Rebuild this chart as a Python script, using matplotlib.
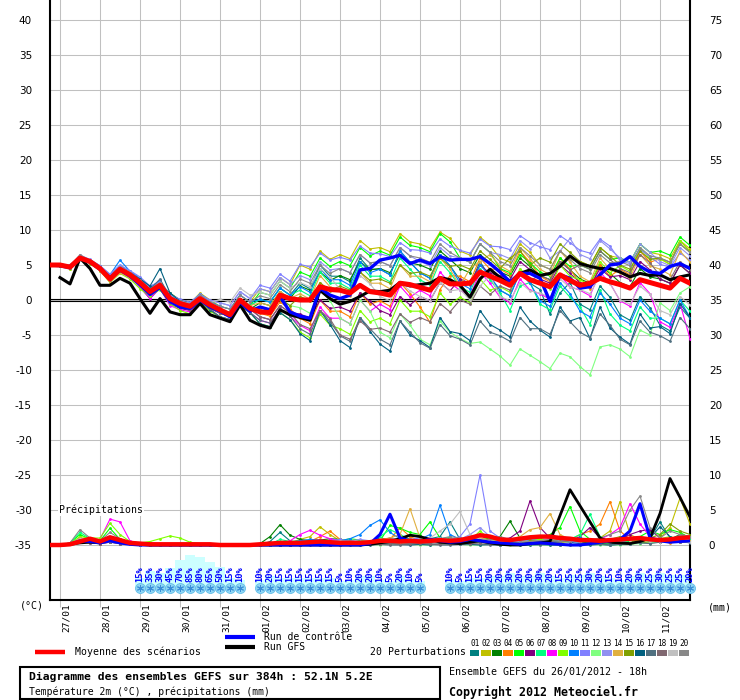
import numpy as np
import matplotlib
matplotlib.use('Agg')
import matplotlib.pyplot as plt
from matplotlib.lines import Line2D
from matplotlib.patches import Rectangle
from matplotlib.transforms import ScaledTranslation

plt.rcParams['axes.unicode_minus'] = False
nan = np.nan
MONO = 'DejaVu Sans Mono'

# pas de 6h depuis le 26/01 18h (indice 0) jusqu'a 384h (indice 64)
dates = ['27/01', '28/01', '29/01', '30/01', '31/01', '01/02', '02/02', '03/02',
         '04/02', '05/02', '06/02', '07/02', '08/02', '09/02', '10/02', '11/02']
date_pos = [1, 5, 9, 13, 17, 21, 25, 29, 33, 37, 41, 45, 49, 53, 57, 61]

# temperature 2m (degC)
moyenne = [5.0, 5.0,4.7,6.0,5.5, 4.5,3.0,4.4,3.6, 2.5,1.2,2.1,0.2, -0.5,-0.9,0.2,-0.7,
           -1.4,-2.1,0.0,-1.2, -1.7,-1.8,0.7,0.2, 0.0,0.0,1.9,1.5, 1.4,1.0,2.1,1.2,
           1.0,0.7,2.4,2.2, 1.8,1.4,3.1,2.3, 2.3,2.4,4.0,3.4, 2.8,2.1,3.8,2.9,
           2.4,1.9,3.6,2.8, 2.1,2.4,3.1,2.6, 2.2,1.7,2.9,2.5, 2.1,1.7,3.1,2.4]
controle = [5.0, 4.9,4.6,6.0,5.4, 4.4,3.2,4.3,3.4, 2.2,0.8,1.8,-0.2, -1.0,-1.2,0.0,-1.0,
            -1.6,-2.4,-0.3,-1.6, -1.0,-1.4,0.5,-1.7, -2.3,-2.6,1.7,0.7, 0.2,0.7,4.3,4.5,
            5.7,6.0,6.4,5.2, 5.7,5.2,6.2,5.7, 5.8,5.8,6.2,5.2, 4.0,2.6,3.8,3.8,
            3.1,-0.2,3.6,3.1, 1.7,1.9,3.6,5.0, 5.2,6.2,4.8,4.0, 3.8,4.8,5.2,4.5]
gfs = [nan, 3.2,2.3,6.0,4.5, 2.1,2.1,3.1,2.4, 0.2,-1.9,0.2,-1.7, -2.1,-2.1,-0.5,-2.1,
       -2.6,-3.1,-0.7,-2.9, -3.6,-4.0,-1.4,-2.1, -2.5,-2.9,1.4,0.2, -0.6,-0.2,0.5,1.3,
       1.2,1.4,2.5,2.0, 2.2,2.4,3.2,2.9, 2.1,0.4,3.0,4.4, 3.2,2.4,3.8,4.3,
       3.5,3.8,4.8,6.3, 5.2,4.8,4.5,4.5, 4.0,3.3,3.8,3.5, 3.6,2.9,3.3,3.6]

pert01 = [5.0,5.1,4.9,6.2,5.6,4.8,3.4,4.6,3.9,2.9,1.6,2.4,0.6,-0.2,-0.6,0.4,-0.4,
          -1.4,-1.8,0.2,-0.8, 0.1,-0.3,1.7,0.7, 2.4,1.6,5.0,3.4, 3.4,2.6,6.0,4.4, 4.4,3.6,7.0,5.4,
          3.9,3.1,6.5,4.9, 2.9,2.1,5.5,3.2, 1.4,0.6,4.0,2.4, 1.5,-2.0,1.0,2.5, -0.6,-1.4,2.0,0.4,
          -2.1,-2.9,0.5,-1.1, -3.6,-4.4,-1.0,-2.6]
pert02 = [5.0,4.9,4.6,6.3,5.4,4.2,2.7,4.2,3.3,2.2,1.0,2.5,0.4,-0.1,-0.5,1.0,0.0,
          -0.9,-1.3,0.7,-0.3, 1.6,1.2,3.2,2.2, 5.0,4.4,7.0,5.8, 6.5,5.9,8.5,7.3, 7.5,6.9,9.5,8.3,
          8.0,7.4,9.7,8.8, 7.0,6.4,9.0,7.8, 6.0,5.4,8.0,6.8, 5.0,4.4,7.0,5.8, 5.5,4.9,7.5,6.3,
          6.0,5.4,8.0,6.8, 6.5,5.9,8.5,7.3]
pert03 = [5.0,5.0,4.8,5.9,5.5,4.7,3.5,4.9,4.0,3.0,1.9,2.3,1.0,0.0,-0.3,0.5,-0.5,
          -1.9,-2.3,-0.3,-1.3, -0.4,-0.8,1.2,0.2, 2.0,1.4,4.0,2.8, 3.5,2.9,5.5,4.3, 4.5,3.9,6.5,5.3,
          5.0,4.4,7.0,5.8, 4.5,3.9,6.5,5.3, 4.0,3.4,6.0,4.8, 3.5,2.9,5.5,4.3, 3.0,2.4,5.0,3.8,
          2.5,1.9,4.5,3.3, 3.0,2.4,5.0,3.8]
pert04 = [5.0,5.0,4.5,6.0,5.3,4.3,2.6,4.1,3.2,2.0,0.8,1.8,-0.3,-0.9,-1.3,-0.1,-1.0,
          -1.9,-2.3,-0.3,-1.3, -1.9,-2.3,-0.3,-1.3, -2.6,-3.4,0.0,-1.6, -1.6,-2.4,1.0,-0.6, -0.1,-0.9,2.5,0.9,
          -1.0,-3.2,1.5,3.5, 3.4,2.6,6.0,4.4, 4.4,3.6,7.0,5.4, 3.4,2.6,6.0,4.4, 2.4,1.6,5.0,3.4,
          4.4,3.6,7.0,5.4, 5.9,5.1,8.5,6.9]
pert05 = [5.0,5.1,4.8,6.1,5.6,4.6,3.1,4.5,3.7,2.4,1.4,2.3,0.3,-0.4,-0.8,0.3,-0.3,
          -1.4,-1.8,0.2,-0.8, 1.1,0.7,2.7,1.7, 4.0,3.4,6.0,4.8, 5.5,4.9,7.5,6.3, 7.0,6.4,9.0,7.8,
          7.5,6.9,9.5,8.3, 6.0,5.4,8.0,6.8, 4.5,3.9,6.5,5.3, 4.0,3.4,6.0,4.8, 5.0,4.4,7.0,5.8,
          6.0,5.4,8.0,6.8, 7.0,6.4,9.0,7.8]
pert06 = [5.0,4.9,4.6,5.9,5.4,4.4,2.9,4.3,3.4,1.8,0.2,1.7,-0.6,-1.2,-1.5,-0.2,-1.2,
          -1.9,-2.3,-0.3,-1.3, -2.4,-2.8,-0.8,-1.8, -2.0,-2.6,0.0,-1.2, -1.0,-1.6,1.0,-0.2, -1.5,-2.1,0.5,-0.7,
          0.5,-0.1,2.5,1.3, 3.0,2.4,5.0,3.8, 3.5,2.9,5.5,4.3, 3.0,2.4,5.0,3.8, 2.5,1.9,4.5,3.3,
          3.5,2.9,5.5,4.3, 3.0,2.4,5.0,3.8]
pert07 = [5.0,5.0,4.7,6.1,5.5,4.6,3.2,4.4,3.8,2.7,1.3,2.2,0.1,-0.6,-1.0,0.2,-0.8,
          -1.4,-1.8,0.2,-0.8, 0.1,-0.3,1.7,0.7, 1.4,0.6,4.0,2.4, 2.4,1.6,5.0,3.4, 3.4,2.6,6.0,4.4,
          2.9,2.1,5.5,3.9, 1.9,1.1,4.5,2.9, 1.0,-1.5,2.0,2.5, -0.6,-1.4,2.0,0.4, -1.0,-3.5,1.5,-2.0,
          -3.6,-4.4,-1.0,-2.6, -2.6,-3.4,0.0,-1.6]
pert08 = [5.0,5.0,4.6,6.0,5.4,4.4,2.8,4.0,3.3,1.9,0.3,1.6,-0.8,-1.4,-1.7,-0.4,-1.5,
          -2.4,-2.8,-0.8,-1.8, -2.9,-3.3,-1.3,-2.3, -3.6,-4.4,-1.0,-2.6, -2.6,-3.4,0.0,-1.6, -0.6,-1.4,2.0,0.4,
          1.4,0.6,4.0,2.4, 1.4,0.6,4.0,2.4, 0.4,-0.4,3.0,1.4, 0.9,0.1,3.5,1.9, 1.4,0.6,4.0,2.4,
          -0.1,-0.9,2.5,0.9, -3.1,-3.9,-0.5,-5.5]
pert09 = [5.0,4.9,4.5,5.9,5.2,4.2,2.5,3.8,3.0,1.6,0.6,1.5,-0.5,-1.5,-2.0,-0.3,-1.6,
          -2.4,-2.8,-0.8,-1.8, -3.4,-3.8,-1.8,-2.8, -4.6,-5.4,-2.0,-3.6, -4.1,-4.9,-1.5,-3.1, -2.6,-3.4,0.0,-1.6,
          -1.6,-2.4,1.0,-0.6, 0.4,-0.4,3.0,1.4, 1.9,1.1,4.5,2.9, 2.4,1.6,5.0,3.4, 2.9,2.1,5.5,3.9,
          4.9,4.1,7.5,5.9, 5.9,5.1,8.5,6.9]
pert10 = [5.0,5.1,5.0,6.2,5.7,4.9,3.6,5.7,4.1,3.1,1.8,2.8,0.5,-0.2,-0.7,0.9,-0.2,
          -0.9,-1.3,0.7,-0.3, 0.1,-0.3,1.7,0.7, 1.9,1.1,4.5,2.9, 2.9,2.1,5.5,3.9, 4.4,3.6,7.0,5.4,
          3.9,3.1,6.5,4.9, 2.4,1.6,5.0,3.4, 1.4,0.6,4.0,2.4, -0.1,-0.9,2.5,0.9, -1.6,-2.4,1.0,-0.6,
          -2.6,-3.4,0.0,-1.6, -2.6,-3.4,0.0,-2.5]
pert11 = [5.0,5.1,4.9,6.4,5.8,4.9,3.7,5.0,4.2,3.3,2.0,2.6,0.8,0.1,-0.3,0.8,0.0,
          -0.4,-0.8,1.2,0.2, 2.1,1.7,3.7,2.7, 5.1,4.7,6.7,5.7, 6.1,5.7,7.7,6.7, 6.6,6.2,8.2,7.2,
          7.1,6.7,8.7,7.7, 7.1,6.7,8.7,7.7, 7.6,7.2,9.2,8.2, 7.6,7.2,9.2,8.2, 7.1,6.7,8.7,7.7,
          5.6,5.2,7.2,6.2, 5.1,4.7,6.7,5.7]
pert12 = [5.0,5.0,4.7,5.9,5.4,4.5,2.9,4.2,3.5,2.3,1.0,2.0,0.0,-0.7,-1.1,0.0,-0.8,
          -1.9,-2.3,-0.3,-1.3, -1.4,-1.8,0.2,-0.8, -1.1,-1.9,1.5,-0.1, -2.6,-3.4,0.0,-1.6, -4.6,-5.4,-2.0,-3.6,
          -5.6,-6.4,-3.0,-4.6, -5.5,-6.2,-6.0,-7.0, -8.0,-9.3,-7.0,-7.9, -8.8,-9.8,-7.6,-8.1, -9.5,-10.7,-6.7,-6.4,
          -7.0,-8.1,-4.3,-5.0, -0.4,-1.5,1.0,1.9]
pert13 = [5.0,5.2,4.9,6.3,5.7,4.8,3.5,4.8,4.0,3.0,1.7,2.5,0.6,-0.1,-0.5,0.6,-0.1,
          -0.4,-0.8,1.2,0.2, 1.6,1.2,3.2,2.2, 3.5,2.9,5.5,4.3, 4.5,3.9,6.5,5.3, 5.5,4.9,7.5,6.3,
          5.5,4.9,7.5,6.3, 6.0,5.4,8.0,6.8, 6.5,5.9,8.5,7.3, 8.5,6.0,7.0,8.8, 6.5,5.9,8.5,7.3,
          6.0,5.4,8.0,6.8, 5.5,4.9,7.5,6.3]
pert14 = [5.0,5.0,4.6,6.0,5.4,4.3,2.5,3.9,3.1,2.1,0.9,1.9,-0.1,-0.7,-1.1,0.1,-0.9,
          -1.4,-1.8,0.2,-0.8, -0.4,-0.8,1.2,0.2, 0.9,0.1,3.5,1.9, 1.4,0.6,4.0,2.4, 2.4,1.6,5.0,3.4,
          3.4,2.6,6.0,4.4, 2.0,4.5,5.5,6.5, 4.9,4.1,7.5,5.9, 4.4,3.6,7.0,5.4, 3.4,2.6,6.0,4.4,
          3.9,3.1,6.5,4.9, 4.4,3.6,7.0,5.4]
pert15 = [5.0,4.9,4.7,6.0,5.5,4.6,3.1,4.5,3.7,2.6,1.3,2.2,0.3,-0.4,-0.8,0.4,-0.6,
          -1.9,-2.3,-0.3,-1.3, -1.4,-1.8,0.2,-0.8, 0.5,-0.1,2.5,1.3, 2.0,1.4,4.0,2.8, 3.0,2.4,5.0,3.8,
          4.0,3.4,6.0,4.8, 5.0,4.4,7.0,5.8, 4.5,6.0,7.0,5.0, 6.0,5.4,8.0,6.8, 5.5,4.9,7.5,6.3,
          5.0,4.4,7.0,5.8, 6.0,5.4,8.0,6.8]
pert16 = [5.0,5.0,4.8,6.1,5.6,4.7,3.3,4.5,3.9,3.0,2.0,4.5,1.0,-0.2,-1.0,0.0,-1.4,
          -2.4,-2.8,-0.8,-1.8, -3.4,-3.8,-1.8,-2.8, -4.8,-5.8,-1.5,-3.5, -5.8,-6.8,-2.5,-4.5, -6.3,-7.3,-3.0,-5.0,
          -5.8,-6.8,-2.5,-4.5, -4.8,-5.8,-1.5,-3.5, -4.3,-5.3,-1.0,-3.0, -4.3,-5.3,-1.0,-3.0, -2.5,-5.5,-1.0,-4.0,
          -5.3,-6.3,-2.0,-4.0, -3.8,-4.8,-0.5,-2.5]
pert17 = [5.0,5.0,4.7,6.0,5.5,4.5,3.2,4.3,3.7,2.8,1.5,3.0,0.4,-0.6,-1.2,-0.1,-1.3,
          -2.4,-2.8,-0.8,-1.8, -2.9,-3.3,-1.3,-2.3, -4.1,-4.9,-1.5,-3.1, -5.1,-5.9,-2.5,-4.1, -5.6,-6.4,-3.0,-4.6,
          -6.1,-6.9,-3.5,-5.1, -5.6,-6.4,-3.0,-4.6, -5.1,-5.9,-2.5,-4.1, -4.1,-4.9,-1.5,-3.1, -4.6,-5.4,-2.0,-3.6,
          -5.6,-6.4,-3.0,-4.6, -5.1,-5.9,-2.5,-4.1]
pert18 = [5.0,5.0,4.6,5.8,5.3,4.4,2.9,4.1,3.4,2.2,0.9,1.8,-0.4,-1.0,-1.4,-0.2,-1.1,
          -1.9,-2.3,-0.3,-1.3, -2.4,-2.8,-0.8,-1.8, -3.5,-4.1,-1.5,-2.7, -5.0,-5.6,-3.0,-4.2, -4.0,-4.6,-2.0,-3.2,
          -2.5,-3.1,-0.5,-1.7, 0.0,-0.6,2.0,0.8, 2.0,1.4,4.0,2.8, 3.5,2.9,5.5,4.3, 5.0,4.4,7.0,5.8,
          4.5,3.9,6.5,5.3, 3.5,2.9,5.5,4.3]
pert19 = [5.0,5.0,4.8,6.1,5.5,4.6,3.2,4.6,3.8,2.7,1.4,2.4,0.4,-0.3,-0.7,0.5,-0.4,
          0.1,-0.3,1.7,0.7, 1.1,0.7,2.7,1.7, 2.5,1.9,4.5,3.3, 1.5,0.9,3.5,2.3, 0.5,-0.1,2.5,1.3,
          0.5,-0.1,2.5,1.3, 1.5,0.0,2.0,3.5, 0.5,-0.1,2.5,1.3, 1.0,0.4,3.0,1.8, 1.5,0.9,3.5,2.3,
          0.0,-0.6,2.0,0.8, -1.5,-2.1,0.5,-0.7]
pert20 = [5.0,5.1,4.8,6.5,5.6,4.7,3.3,4.7,3.9,2.8,1.5,2.5,0.5,-0.2,-0.6,0.7,-0.3,
          -0.9,-1.3,0.7,-0.3, 0.6,0.2,2.2,1.2, 3.0,2.4,5.0,3.8, 4.5,3.9,6.5,5.3, 5.5,4.9,7.5,6.3,
          6.0,5.4,8.0,6.8, 6.0,5.4,8.0,6.8, 5.5,4.9,7.5,6.3, 5.0,4.4,7.0,5.8, 4.5,3.9,6.5,5.3,
          5.5,4.9,7.5,6.3, 6.0,5.4,8.0,6.8]

# precipitations sur 6h (mm)
moyenne_pr = [0, 0,0.1,0.5,0.9, 0.5,1.1,0.7,0.3, 0.2,0.1,0.1,0.1, 0.1,0.1,0.1,0.1, 0,0,0,0,
              0.1,0.2,0.3,0.3, 0.3,0.4,0.5,0.4, 0.3,0.3,0.3,0.4, 0.6,0.6,0.5,0.6, 0.5,0.6,0.7,0.6,
              0.7,1.0,1.4,1.2, 0.8,0.7,0.9,1.1, 1.2,1.2,1.0,0.9, 0.7,0.7,0.6,0.7, 0.8,0.9,1.0,0.8,
              0.7,0.8,1.0,1.1]
controle_pr = [0, 0,0.1,0.6,0.5, 0.3,0.6,0.3,0.1, 0,0,0,0, 0,0,0,0, 0,0,0,0, 0,0,0,0, 0,0,0,0,
               0,0,0,0.2, 1.5,4.4,1.0,0.6, 0.5,0.8,0.6,0.4, 0.5,0.8,0.6,0.4, 0.3,0.2,0.1,0.2,
               0.3,0.2,0.1,0.0, 0.0,0.2,0.4,0.6, 0.8,2.0,5.9,1.0, 0.6,0.4,0.5,0.6]
gfs_pr = [nan, 0,0.1,0.3,0.4, 0.3,0.8,0.5,0.2, 0.1,0,0,0, 0,0,0,0, 0,0,0,0, 0,0,0,0, 0,0,0,0,
          0,0,0,0.1, 0.3,0.5,0.9,1.4, 1.2,0.8,0.4,0.3, 0.2,0.4,0.6,0.3, 0.1,0,0,0.2,
          0.3,0.5,4.2,7.9, 5.6,3.3,1.0,0.4, 0.3,0.2,0.5,1.0, 4.5,9.5,6.8,4.0]

pr01 = [0, 0,0.2,1.0,0.6, 0.4,0.9,0.5,0.2, 0,0,0,0, 0,0,0,0, 0,0,0,0, 0,0.5,1.8,0.6, 0.3,0.2,0.5,0.3,
        0.2,0.4,0.6,0.5, 1.0,0.8,0.5,0.4, 0.6,0.9,1.2,3.3, 0.8,0.4,0.6,0.5, 0.3,0.2,0.3,0.4,
        0.2,0.3,0.5,0.4, 0.2,0.1,0.3,0.2, 0.2,0.4,0.5,0.9, 3.3,1.0,0.4,0.6]
pr02 = [0, 0,0.1,0.6,0.4, 0.3,0.5,0.3,0.1, 0,0,0,0, 0,0,0,0, 0,0,0,0, 0,0,0.2,0.3, 0.8,1.2,2.6,1.5,
        0.6,0.3,0.2,0.3, 0.5,0.6,0.4,0.3, 0.2,0.4,0.6,0.5, 0.7,0.5,0.8,0.6, 0.4,0.3,0.5,0.4,
        0.3,0.6,0.4,0.5, 0.8,0.6,1.0,2.0, 6.2,1.5,0.8,0.6, 1.0,2.5,6.7,3.0]
pr03 = [0, 0,0.2,0.9,0.5, 0.3,0.6,0.4,0.2, 0,0,0,0, 0,0,0,0, 0,0,0,0, 0.2,1.2,2.9,1.4, 0.8,0.6,0.7,0.9,
        0.8,0.5,0.4,0.6, 0.7,1.0,0.8,0.5, 0.6,0.5,0.7,0.9, 0.6,0.8,1.4,0.9, 1.2,3.4,1.0,0.6,
        0.4,0.3,0.5,0.6, 0.4,0.3,0.2,0.4, 0.3,0.5,0.4,0.3, 0.6,0.8,1.5,1.2]
pr04 = [0, 0,0.1,0.7,0.4, 0.2,0.5,0.3,0.1, 0,0,0,0, 0,0,0,0, 0,0,0,0, 0,0,0,0.1, 0.3,0.5,1.2,2.0,
        0.8,0.4,0.3,0.2, 0.4,0.8,2.5,1.2, 0.6,0.8,0.5,0.4, 0.6,1.0,0.8,0.5, 0.4,0.6,0.8,0.5,
        0.3,0.5,0.9,0.7, 1.5,2.0,3.0,6.2, 2.0,0.8,0.5,0.4, 0.6,0.3,0.5,0.4]
pr05 = [0, 0,0.3,1.5,0.8, 0.6,2.4,0.8,0.3, 0,0,0,0, 0,0,0,0, 0,0,0,0, 0,0,0.1,0.2, 0.3,0.2,0.4,0.5,
        0.6,0.9,0.7,0.5, 0.6,2.8,2.4,1.8, 1.5,3.3,1.0,0.6, 0.8,0.5,0.7,1.0, 0.6,0.4,0.5,0.8,
        1.0,1.5,2.5,5.5, 2.0,0.8,0.6,0.5, 0.4,0.6,1.2,2.0, 1.5,2.2,1.8,1.0]
pr06 = [0, 0,0.1,0.5,0.3, 0.2,0.4,0.2,0.1, 0,0,0,0, 0,0,0,0, 0,0,0,0, 0,0,0,0, 0.2,0.3,0.2,0.1,
        0.2,0.3,0.4,0.3, 0.4,0.5,0.3,0.2, 0.3,0.4,0.5,0.6, 0.8,1.2,0.9,0.7, 0.8,1.0,2.0,6.3,
        2.5,1.0,0.8,0.6, 1.2,2.5,1.0,0.6, 0.8,1.5,2.0,2.2, 1.0,0.6,0.8,0.5]
pr07 = [0, 0,0.3,1.8,0.9, 0.5,1.2,0.6,0.2, 0,0,0,0, 0,0,0,0, 0,0,0,0, 0,0.1,0.8,0.5, 0.6,0.5,0.3,0.4,
        0.5,0.6,0.4,0.3, 1.2,2.2,1.5,0.8, 0.6,0.7,0.9,1.1, 0.6,0.5,0.4,0.8, 0.5,0.4,0.6,0.7,
        0.9,0.6,0.5,0.8, 1.5,4.4,1.2,0.5, 0.4,0.6,0.8,0.5, 0.4,0.6,0.5,0.7]
pr08 = [0, 0,0.2,1.0,0.8, 0.8,3.7,3.3,0.6, 0.2,0.3,0.2,0.1, 0.1,0.2,0.1,0, 0,0,0,0, 0,0,0.2,0.6,
        1.5,2.1,1.4,0.9, 0.6,0.4,0.3,0.5, 0.7,0.6,0.4,0.5, 0.6,0.8,0.5,0.4, 0.5,0.7,0.6,0.5,
        0.4,0.3,0.5,0.6, 0.5,1.0,1.2,0.8, 0.6,0.5,0.8,1.5, 2.5,5.9,3.0,1.2, 0.8,0.6,0.5,0.4]
pr09 = [0, 0,0.2,1.2,1.0, 1.0,3.1,1.5,0.5, 0.3,0.5,0.9,1.3, 1.0,0.4,0.2,0.1, 0,0,0,0, 0,0,0,0.1,
        0.2,0.3,0.2,0.3, 0.4,0.3,0.2,0.3, 0.4,0.6,0.5,0.4, 0.3,0.6,0.8,0.5, 0.4,0.6,2.0,0.8,
        0.5,0.4,0.3,0.6, 0.8,0.5,0.4,0.6, 0.7,0.5,0.4,0.3, 0.5,0.8,1.0,0.7, 0.9,1.2,0.8,0.6]
pr10 = [0, 0,0.2,0.8,0.5, 0.4,0.7,0.4,0.1, 0,0,0,0, 0,0,0,0, 0,0,0,0, 0,0,0.2,0.4, 0.6,0.8,0.7,0.5,
        0.6,0.9,1.5,2.8, 3.6,1.8,0.9,0.6, 0.8,1.5,5.7,1.5, 0.8,0.5,0.6,0.4, 0.3,0.5,0.8,0.6,
        0.5,0.4,0.6,0.7, 1.0,0.8,0.6,0.5, 0.4,0.8,1.2,0.6, 0.5,0.8,0.6,0.4]
pr11 = [0, 0,0.1,0.6,0.4, 0.3,0.5,0.3,0.1, 0,0,0,0, 0,0,0,0, 0,0,0,0, 0,0,0,0.1, 0.2,0.3,0.4,0.6,
        0.8,0.5,0.4,0.3, 0.5,0.6,0.4,0.8, 1.0,0.7,0.6,0.8, 1.2,3.0,10.0,2.0, 1.0,0.6,0.8,0.5,
        0.4,0.6,0.8,0.5, 0.4,0.6,0.5,0.4, 0.6,0.8,1.0,0.7, 0.5,0.6,0.8,0.6]
pr12 = [0, 0,0.2,0.9,0.6, 0.4,0.8,0.4,0.2, 0,0,0,0, 0,0,0,0, 0,0,0,0, 0,0,0,0, 0,0.1,0,0,
        0.1,0,0,0.1, 0,0.1,0.2,0.1, 0,0,0.1,0.2, 0.1,0,0,0.1, 0,0,0,0,
        0,0,0,0, 0,0.1,0,0, 0,0.1,0.2,0.3, 0.5,0.8,0.6,0.4]
pr13 = [0, 0,0.1,0.7,0.4, 0.3,0.6,0.3,0.1, 0,0,0,0, 0,0,0,0, 0,0,0,0, 0,0,0.1,0.2, 0.3,0.5,0.6,0.4,
        0.5,0.6,0.8,0.6, 0.5,1.0,0.8,0.6, 0.5,0.8,1.0,0.7, 0.8,1.5,2.5,1.2, 0.8,0.6,0.5,0.8,
        0.6,0.5,0.7,0.8, 0.6,0.5,0.7,0.5, 0.6,0.9,0.8,0.6, 0.5,0.7,0.6,0.5]
pr14 = [0, 0,0.2,1.0,0.5, 0.4,0.8,0.4,0.1, 0,0,0,0, 0,0,0,0, 0,0,0,0, 0,0,0,0.1, 0.2,0.4,0.6,0.5,
        0.4,0.3,0.5,0.6, 0.8,1.0,1.5,5.2, 1.0,0.6,0.5,0.8, 0.6,0.8,1.0,0.6, 0.5,0.8,1.2,2.2,
        2.5,4.5,1.5,0.8, 0.6,0.5,0.6,0.8, 1.0,0.6,0.5,0.8, 0.6,0.5,0.7,0.6]
pr15 = [0, 0,0.2,0.8,0.5, 0.3,0.6,0.3,0.1, 0,0,0,0, 0,0,0,0, 0,0,0,0, 0,0,0.1,0.2, 0.3,0.4,0.5,0.4,
        0.3,0.5,0.4,0.3, 0.4,0.6,0.5,0.4, 0.5,0.7,0.6,0.5, 0.6,0.8,0.7,0.5, 0.6,0.8,1.0,0.7,
        0.5,0.6,0.8,1.0, 0.7,0.6,0.5,0.8, 1.2,0.8,0.6,1.0, 1.5,3.0,2.0,1.5]
pr16 = [0, 0,0.2,0.7,0.4, 0.3,0.5,0.3,0.1, 0,0,0,0, 0,0,0,0, 0,0,0,0, 0,0,0,0, 0,0.1,0,0,
        0,0.1,0,0, 0.1,0.2,0.1,0, 0.1,0,0.2,0.1, 0.2,0.1,0,0.1, 0,0.1,0,0,
        0.1,0,0,0.1, 0,0,0.1,0, 0.1,0.2,0.4,1.0, 2.6,1.2,0.6,0.5]
pr17 = [0, 0,0.1,0.6,0.4, 0.3,0.5,0.2,0.1, 0,0,0,0, 0,0,0,0, 0,0,0,0, 0,0,0,0, 0,0,0.1,0,
        0,0,0.1,0.2, 0.1,0,0,0.1, 0.2,0.1,0,0, 0.1,0.2,0.1,0, 0,0.1,0.2,0.1,
        0,0.1,0,0, 0.1,0.2,0.1,0, 0.1,0.2,0.3,0.2, 0.4,0.8,0.5,0.3]
pr18 = [0, 0,0.1,0.5,0.3, 0.2,0.4,0.2,0.1, 0,0,0,0, 0,0,0,0, 0,0,0,0, 0,0,0,0, 0.1,0.2,0.1,0,
        0.1,0.2,0.3,0.2, 0.1,0.2,0.1,0.2, 0.3,0.2,0.1,0.2, 0.3,0.2,0.3,0.2, 0.1,0.2,0.3,0.2,
        0.3,0.5,0.4,0.6, 0.8,0.5,0.6,0.8, 0.6,0.8,1.0,0.7, 0.5,0.6,1.5,1.2]
pr19 = [0, 0,0.2,0.9,0.6, 0.4,0.8,0.4,0.2, 0,0,0,0, 0,0,0,0, 0,0,0,0, 0,0,0.2,0.4, 0.5,0.4,0.3,0.5,
        0.6,0.4,0.5,0.6, 0.8,0.6,0.5,0.7, 0.8,1.0,2.0,3.0, 4.8,1.5,0.8,0.6, 0.5,0.7,0.6,0.5,
        0.6,0.8,1.0,0.7, 0.6,0.5,0.8,0.6, 0.5,0.7,0.9,0.6, 0.5,0.8,0.6,0.4]
pr20 = [0, 0,0.3,2.2,1.0, 0.6,1.8,0.9,0.3, 0,0,0,0, 0,0,0,0, 0,0,0,0, 0,0,0.1,0.3, 0.4,0.5,0.3,0.4,
        0.5,0.6,0.4,0.5, 0.6,0.8,1.0,0.7, 0.8,0.6,0.9,1.2, 1.0,0.8,0.6,0.8, 1.2,0.8,0.6,0.5,
        0.6,0.8,0.5,0.7, 0.6,0.8,1.0,1.5, 2.0,5.0,7.0,2.5, 1.0,2.0,1.5,1.2]

# probabilite de neige (%) par pas de 6h
neige = [None]*9 + [15,35,30,45,70,85,80,65,50,15,10] + [None] + \
        [10,20,15,15,15,15,15,15,5,10,20,20,10,5,20,10,5] + [None, None] + \
        [10,5,15,15,20,20,30,20,20,30,20,15,25,25,30,20,15,10,20,30,25,30,25,25,20]

couleurs = ['#008080', '#c0c000', '#008000', '#ff8000', '#00ff00', '#800080', '#00ff80',
            '#ff00ff', '#80ff00', '#0080ff', '#8080ff', '#80ff80', '#9090f0', '#e0b040',
            '#80a000', '#006080', '#507080', '#806870', '#c0c0c0', '#888888']

perts = [pert01, pert02, pert03, pert04, pert05, pert06, pert07, pert08, pert09, pert10,
         pert11, pert12, pert13, pert14, pert15, pert16, pert17, pert18, pert19, pert20]
prs = [pr01, pr02, pr03, pr04, pr05, pr06, pr07, pr08, pr09, pr10,
       pr11, pr12, pr13, pr14, pr15, pr16, pr17, pr18, pr19, pr20]

W, H = 740, 700
fig = plt.figure(figsize=(W / 100, H / 100), dpi=100)
ax = fig.add_axes([50 / W, 100 / H, 640 / W, 600 / H])
ax.set_xlim(0, 64)
ax.set_ylim(-300 / 7, 300 / 7)

ax.set_xticks(date_pos)
ax.set_xticklabels(dates, rotation=90, family=MONO, fontsize=6.8)
ax.set_yticks(range(-35, 45, 5))
ax.tick_params(axis='y', length=0, pad=13, labelsize=7.5)
ax.tick_params(axis='x', length=5, color='#c0c0c0', width=0.75, pad=-3)
off = ScaledTranslation(6 / 100, 0, fig.dpi_scale_trans)
for lab in ax.get_xticklabels():
    lab.set_transform(lab.get_transform() + off)
ax.grid(True, color='#c0c0c0', lw=0.75)
ax.set_axisbelow(True)
for s in ['left', 'bottom', 'right']:
    ax.spines[s].set_linewidth(1.5)
ax.spines['top'].set_visible(False)

ax2 = ax.twinx()
ax2.set_ylim(-300 / 7 + 35, 300 / 7 + 35)
ax2.set_yticks(range(0, 80, 5))
ax2.tick_params(length=0, pad=13.5, labelsize=7.5)
for s in ax2.spines.values():
    s.set_visible(False)

# double trait a 0 degC
ax.axhline(0.14, color='k', lw=0.8, zorder=2)
ax.axhline(-0.14, color='k', lw=0.8, zorder=2)

# bandeau neige
y_flocon = -288 / 7
xs = [i for i, p in enumerate(neige) if p is not None]
for i in xs:
    p = neige[i]
    h = (5 + 0.33 * p) / 7
    ax.bar(i, h, bottom=y_flocon, width=1, color='#ccffff', lw=0, zorder=1)
    ax.text(i, -282 / 7, '%d%%' % p, rotation=90, ha='center', va='bottom',
            color='#0000ff', fontsize=6.3, family=MONO, fontweight='bold', zorder=5)
ax.plot(xs, [y_flocon] * len(xs), 'o', ms=7.2, color='#8fd6f4', mec='#63bfe9', mew=0.6,
        zorder=3, clip_on=False)
ax.plot(xs, [y_flocon] * len(xs), ls='none', marker=(6, 2, 0), ms=5, color='#3a8fd8',
        mew=0.7, zorder=4, clip_on=False)

ax.text(0.9, -30, 'Précipitations', va='center', ha='left', fontsize=7.1, family=MONO,
        bbox=dict(fc='white', ec='none', pad=0.5), zorder=2)

# perturbations
for t, pr, c in zip(perts, prs, couleurs):
    ax.plot(np.arange(len(t)), t, color=c, lw=0.8, marker='o', ms=2, mew=0, zorder=3)
    ax.plot(np.arange(len(pr)), np.array(pr) - 35, color=c, lw=0.8, marker='o', ms=2,
            mew=0, zorder=3)

ax.plot(np.arange(len(gfs)), gfs, color='k', lw=2.2, zorder=4)
ax.plot(np.arange(len(gfs_pr)), np.array(gfs_pr) - 35, color='k', lw=2.0, zorder=4)
ax.plot(np.arange(len(controle)), controle, color='#0000ff', lw=2.4, zorder=5)
ax.plot(np.arange(len(controle_pr)), np.array(controle_pr) - 35, color='#0000ff', lw=2.2, zorder=5)
ax.plot(np.arange(len(moyenne)), moyenne, color='#ff0000', lw=3.6, zorder=6)
ax.plot(np.arange(len(moyenne_pr)), np.array(moyenne_pr) - 35, color='#ff0000', lw=3.2, zorder=6)

# bas de l'image
def fy(py):
    return 1 - py / H

fig.text(20 / W, fy(606), '(°C)', va='center', ha='left', family=MONO, fontsize=7.2)
fig.text(708 / W, fy(607), '(mm)', va='center', ha='left', family=MONO, fontsize=7.2)

fig.add_artist(Line2D([35 / W, 65 / W], [fy(652)] * 2, color='#ff0000', lw=3.2, solid_capstyle='butt'))
fig.text(75 / W, fy(652), 'Moyenne des scénarios', va='center', family=MONO, fontsize=7.1)
fig.add_artist(Line2D([225 / W, 255 / W], [fy(637)] * 2, color='#0000ff', lw=3.0, solid_capstyle='butt'))
fig.text(264 / W, fy(637), 'Run de contrôle', va='center', family=MONO, fontsize=7.0)
fig.add_artist(Line2D([225 / W, 255 / W], [fy(647)] * 2, color='k', lw=3.0, solid_capstyle='butt'))
fig.text(264 / W, fy(647), 'Run GFS', va='center', family=MONO, fontsize=7.0)

fig.text(370 / W, fy(652), '20 Perturbations', va='center', family=MONO, fontsize=7.1)
for k, c in enumerate(couleurs):
    x0 = 470 + 11 * k
    fig.add_artist(Rectangle((x0 / W, fy(656)), 9.5 / W, 6 / H, color=c, lw=0,
                             transform=fig.transFigure))
    fig.text((x0 + 4.8) / W, fy(643), '%02d' % (k + 1), ha='center', va='center',
             family=MONO, fontsize=5.6)

fig.add_artist(Rectangle((20 / W, fy(699)), 420 / W, 32 / H, fill=False, ec='k', lw=1.5,
                         transform=fig.transFigure))
fig.text(29 / W, fy(677), 'Diagramme des ensembles GEFS sur 384h : 52.1N 5.2E', va='center',
         family=MONO, fontweight='bold', fontsize=8.2)
fig.text(29 / W, fy(692), 'Température 2m (°C) , précipitations (mm)', va='center',
         family=MONO, fontsize=7.0)
fig.text(449 / W, fy(672), 'Ensemble GEFS du 26/01/2012 - 18h', va='center', family=MONO,
         fontsize=7.2)
fig.text(449 / W, fy(692), 'Copyright 2012 Meteociel.fr', va='center', family=MONO,
         fontweight='bold', fontsize=8.4)

fig.savefig('out.png', dpi=100)
